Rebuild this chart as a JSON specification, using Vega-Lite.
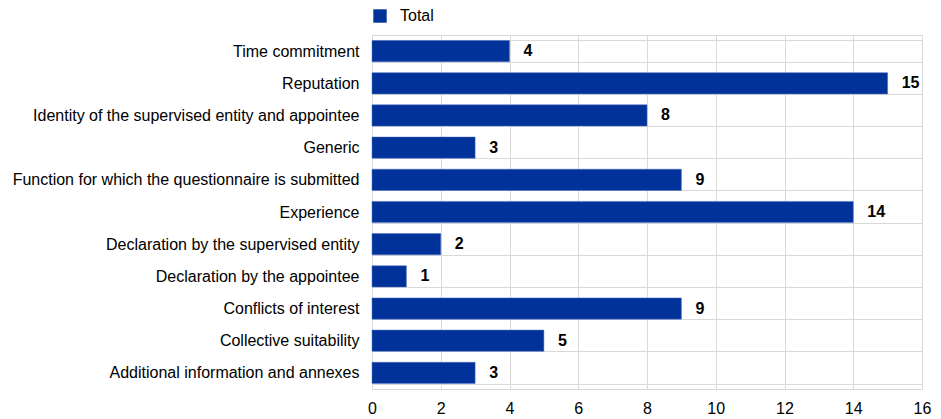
{
  "$schema": "https://vega.github.io/schema/vega-lite/v6.json",
  "autosize": "none",
  "width": 550,
  "height": 354,
  "padding": {"left": 372, "top": 35, "right": 19, "bottom": 30},
  "background": "white",
  "config": {
    "font": "Liberation Sans",
    "view": {"stroke": "#d9d9d9"}
  },
  "data": {
    "values": [
      {"category": "Time commitment", "series": "Total", "value": 4},
      {"category": "Reputation", "series": "Total", "value": 15},
      {"category": "Identity of the supervised entity and appointee", "series": "Total", "value": 8},
      {"category": "Generic", "series": "Total", "value": 3},
      {"category": "Function for which the questionnaire is submitted", "series": "Total", "value": 9},
      {"category": "Experience", "series": "Total", "value": 14},
      {"category": "Declaration by the supervised entity", "series": "Total", "value": 2},
      {"category": "Declaration by the appointee", "series": "Total", "value": 1},
      {"category": "Conflicts of interest", "series": "Total", "value": 9},
      {"category": "Collective suitability", "series": "Total", "value": 5},
      {"category": "Additional information and annexes", "series": "Total", "value": 3}
    ]
  },
  "encoding": {
    "y": {
      "field": "category",
      "type": "nominal",
      "sort": null,
      "title": null,
      "scale": {"paddingInner": 0.34, "paddingOuter": 0.17},
      "axis": {
        "grid": true,
        "tickBand": "extent",
        "gridColor": "#d9d9d9",
        "domain": false,
        "ticks": false,
        "labelFontSize": 16,
        "labelColor": "#000000",
        "labelPadding": 13,
        "labelLimit": 400
      }
    },
    "x": {
      "field": "value",
      "type": "quantitative",
      "title": null,
      "scale": {"domain": [0, 16], "nice": false},
      "axis": {
        "values": [0, 2, 4, 6, 8, 10, 12, 14, 16],
        "grid": true,
        "gridColor": "#d9d9d9",
        "domainColor": "#d9d9d9",
        "ticks": false,
        "labelFlush": false,
        "labelFontSize": 16,
        "labelColor": "#000000",
        "labelPadding": 11
      }
    }
  },
  "layer": [
    {
      "mark": {"type": "bar", "stroke": "#4d6fc0", "strokeWidth": 0.5},
      "encoding": {
        "color": {
          "field": "series",
          "type": "nominal",
          "scale": {"range": ["#003299"]},
          "legend": {
            "title": null,
            "orient": "none",
            "legendX": 0,
            "legendY": -27,
            "symbolType": "square",
            "symbolSize": 180,
            "symbolStrokeWidth": 0,
            "labelFontSize": 16,
            "labelColor": "#000000",
            "labelOffset": 12
          }
        }
      }
    },
    {
      "mark": {"type": "text", "align": "left", "dx": 14, "fontWeight": "bold", "fontSize": 16, "color": "#000000"},
      "encoding": {"text": {"field": "value", "type": "quantitative"}}
    }
  ]
}
